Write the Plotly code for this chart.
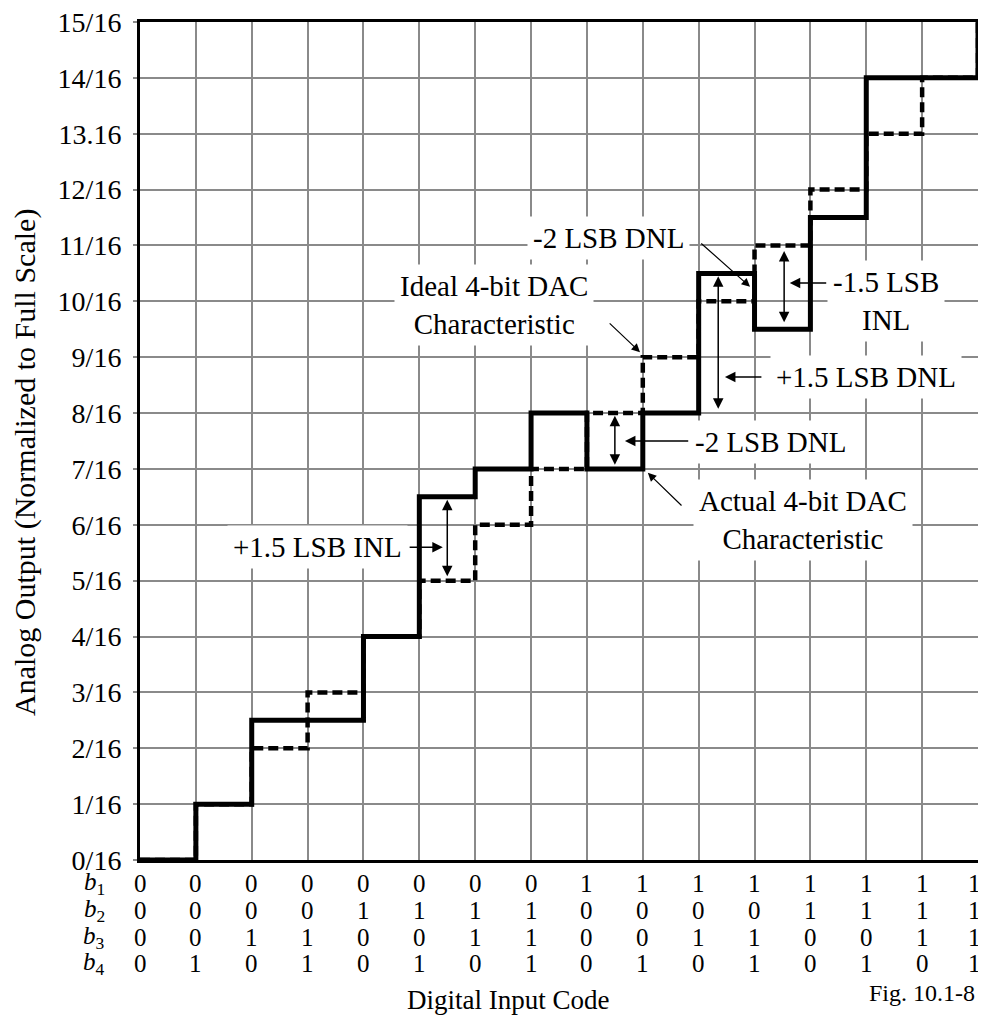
import plotly.graph_objects as go

# ---- data ----
codes = list(range(16))
actual_output = [0, 1, 2.5, 2.5, 4, 6.5, 7, 8, 7, 8, 10.5, 9.5, 11.5, 14, 14, 15]
ideal_output = [0, 1, 2, 3, 4, 5, 6, 7, 8, 9, 10, 11, 12, 13, 14, 15]
y_tick_vals = list(range(16))
y_tick_text = ["0/16", "1/16", "2/16", "3/16", "4/16", "5/16", "6/16", "7/16",
               "8/16", "9/16", "10/16", "11/16", "12/16", "13.16", "14/16", "15/16"]
bit_row_names = ["<i>b</i><sub>1</sub>", "<i>b</i><sub>2</sub>",
                 "<i>b</i><sub>3</sub>", "<i>b</i><sub>4</sub>"]
b1 = ["0", "0", "0", "0", "0", "0", "0", "0", "1", "1", "1", "1", "1", "1", "1", "1"]
b2 = ["0", "0", "0", "0", "1", "1", "1", "1", "0", "0", "0", "0", "1", "1", "1", "1"]
b3 = ["0", "0", "1", "1", "0", "0", "1", "1", "0", "0", "1", "1", "0", "0", "1", "1"]
b4 = ["0", "1", "0", "1", "0", "1", "0", "1", "0", "1", "0", "1", "0", "1", "0", "1"]
bit_rows = [b1, b2, b3, b4]

FONT = "Liberation Serif"
OFF = 8  # page body margin
W, H = 978, 1008
L, T = 132, 14
PW, PH = 838, 838
R = W - L - PW
B = H - T - PH

fig = go.Figure()
fig.add_trace(go.Scatter(x=codes, y=ideal_output, mode="lines", line_shape="hv",
                         line=dict(color="black", width=4.5, dash="10px,5px"),
                         showlegend=False, hoverinfo="skip"))
fig.add_trace(go.Scatter(x=codes, y=actual_output, mode="lines", line_shape="hv",
                         line=dict(color="black", width=5),
                         showlegend=False, hoverinfo="skip"))

ann = []


def py(pix):
    return (T + PH - (pix - OFF)) / PH


def px(pix):
    return ((pix - OFF) - L) / PW


def label(text, x, y, size=29):
    ann.append(dict(x=x, y=y, xref="x", yref="y", text=text, showarrow=False,
                    font=dict(family=FONT, size=size, color="black"),
                    bgcolor="white", borderpad=5, align="center"))


def arrow(x, y, ax, ay, both=False, width=1.5, size=1.4):
    d = dict(x=x, y=y, ax=ax, ay=ay, xref="x", yref="y", axref="x", ayref="y",
             text="", showarrow=True, arrowhead=2, arrowsize=size, arrowwidth=width,
             arrowcolor="black", standoff=0, startstandoff=0,
             arrowside="end+start" if both else "end")
    if both:
        d.update(startarrowhead=2, startarrowsize=size)
    ann.append(d)


# text labels
label("Ideal 4-bit DAC<br>Characteristic", 6.33, 9.93)
label("-2 LSB DNL", 8.39, 11.13)
label("-1.5 LSB<br>INL", 13.35, 10.0)
label("+1.5 LSB DNL", 13.0, 8.645)
label("-2 LSB DNL", 11.29, 7.48)
label("Actual 4-bit DAC<br>Characteristic", 11.87, 6.09)
label("+1.5 LSB INL", 3.17, 5.60)

# arrows
arrow(5.42, 5.6, 4.80, 5.6)
arrow(5.5, 6.45, 5.5, 5.05, both=True)
arrow(8.68, 7.5, 9.84, 7.5)
arrow(8.5, 7.95, 8.5, 7.05, both=True)
arrow(9.09, 6.93, 9.72, 6.32, width=1.2)
arrow(8.95, 9.09, 8.38, 9.63, width=1.2)
arrow(10.92, 10.26, 10.02, 11.06, width=1.2)
arrow(10.47, 8.645, 11.15, 8.645)
arrow(10.35, 10.45, 10.35, 8.05, both=True)
arrow(11.63, 10.33, 12.31, 10.33)
arrow(11.53, 10.9, 11.53, 9.6, both=True)

# bit rows under the x axis
row_pix = [884, 910, 937, 963]
last = codes[-1]
for r, (name, row) in enumerate(zip(bit_row_names, bit_rows)):
    yp = py(row_pix[r])
    ann.append(dict(x=px(94), y=yp, xref="paper", yref="paper", text=name,
                    showarrow=False, xanchor="center", yanchor="middle",
                    font=dict(family=FONT, size=25, color="black")))
    for k, bit in zip(codes, row):
        ann.append(dict(x=k, y=yp, xref="x", yref="paper", text=bit,
                        showarrow=False, xanchor="center", yanchor="middle",
                        xshift=-4 if k == last else 0,
                        font=dict(family=FONT, size=25, color="black")))

ann.append(dict(x=px(508), y=py(1000), xref="paper", yref="paper",
                text="Digital Input Code", showarrow=False, xanchor="center",
                yanchor="middle", font=dict(family=FONT, size=27, color="black")))
ann.append(dict(x=px(977), y=py(993), xref="paper", yref="paper",
                text="Fig. 10.1-8", showarrow=False, xanchor="right",
                yanchor="middle", font=dict(family=FONT, size=24, color="black")))
ann.append(dict(x=px(25), y=py(463), xref="paper", yref="paper",
                text="Analog Output (Normalized to Full Scale)", showarrow=False,
                textangle=-90, xanchor="center", yanchor="middle",
                font=dict(family=FONT, size=30, color="black")))

fig.update_layout(
    width=W, height=H, margin=dict(l=L, r=R, t=T, b=B, autoexpand=False),
    paper_bgcolor="white", plot_bgcolor="white", annotations=ann,
    xaxis=dict(range=[0, 15], dtick=1, tick0=0, showgrid=True, gridcolor="#8a8a8a",
               gridwidth=2, showticklabels=False, zeroline=False, showline=True,
               linecolor="black", linewidth=3, mirror=True, ticks=""),
    yaxis=dict(range=[0, 15], tickvals=y_tick_vals, ticktext=y_tick_text,
               showgrid=True, gridcolor="#8a8a8a", gridwidth=2, zeroline=False,
               showline=True, linecolor="black", linewidth=3, mirror=True,
               ticks="outside", ticklen=4, tickcolor="#8a8a8a", tickwidth=2,
               ticklabeloverflow="allow", ticklabelstandoff=6,
               tickfont=dict(family=FONT, size=28, color="black")),
)

fig.write_html("out.html")
